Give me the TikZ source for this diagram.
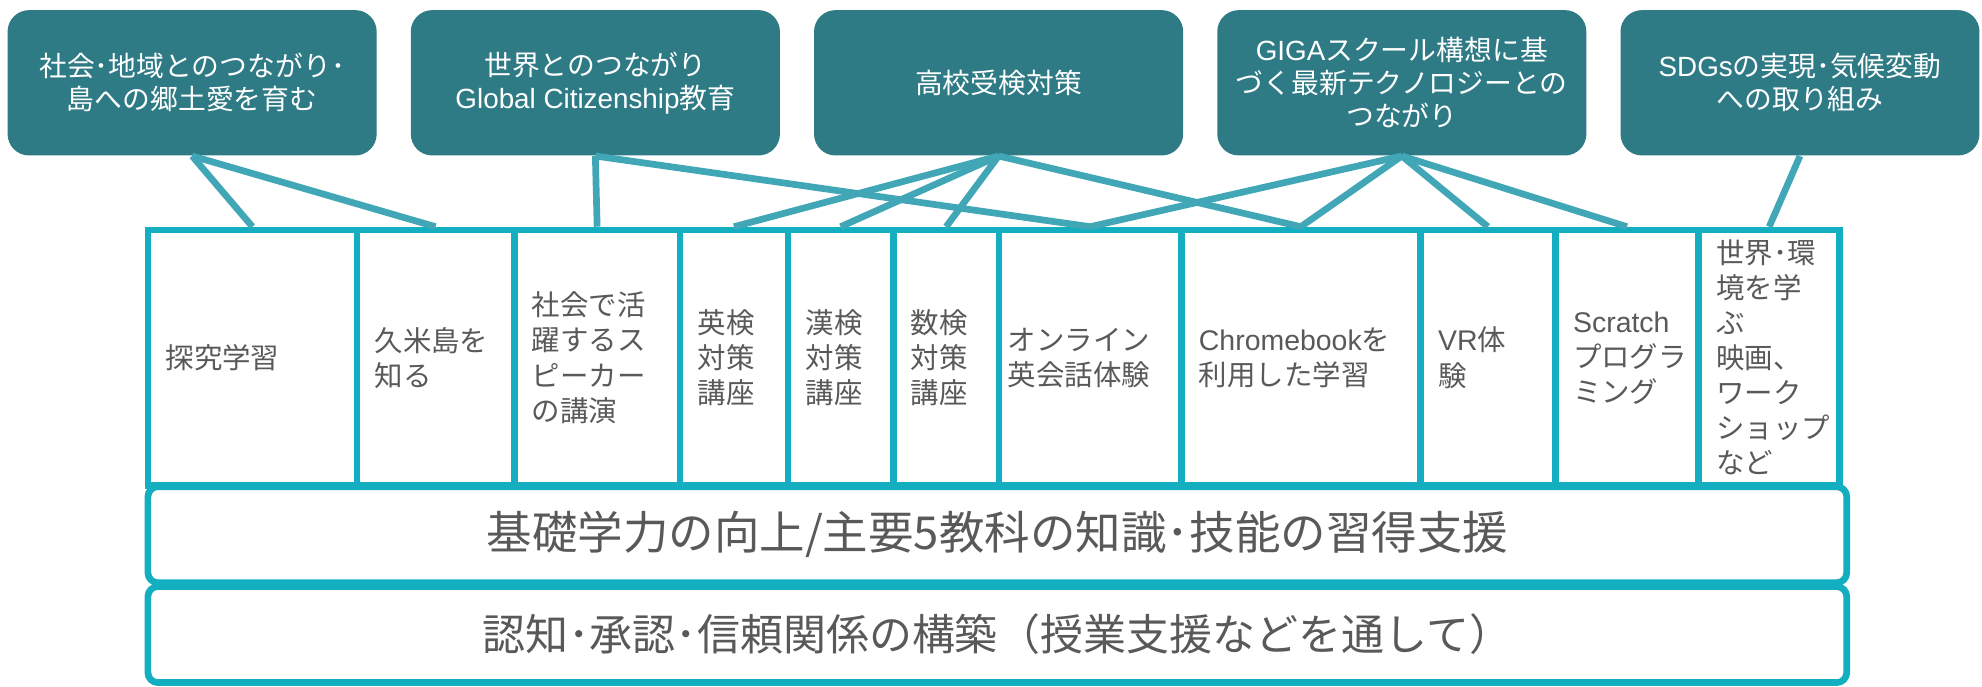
\documentclass[tikz,border=0pt]{standalone}
\usepackage{fontspec}
\setmainfont{Noto Sans CJK JP}
\newfontfamily\arialfont{Liberation Sans}
\definecolor{goalteal}{HTML}{2E7A85}
\definecolor{linkteal}{HTML}{41A7B7}
\definecolor{frameteal}{HTML}{13AFC1}
\definecolor{textgray}{HTML}{595959}
\tikzset{
  goal/.style={rectangle, rounded corners=8.5pt, fill=goalteal, text=white,
    align=center, minimum width=146pt, minimum height=57.5pt, inner sep=0pt,
    font=\fontsize{11}{13}\selectfont},
  cell/.style={rectangle, draw=frameteal, line width=2.65pt, minimum height=101pt,
    inner xsep=7pt, inner ysep=0pt, align=left, text=textgray,
    font=\fontsize{11.25}{13.85}\selectfont},
  base/.style={rectangle, rounded corners=4pt, draw=frameteal, line width=2.65pt,
    minimum width=672pt, minimum height=38pt, text=textgray}
}
\begin{document}
\begin{tikzpicture}[x=0.5pt, y=-0.5pt]
  \useasboundingbox (0,0) rectangle (1568,543);
  % goals
  \node[goal] (g1) at (152,65.5) {社会･地域とのつながり･\\島への郷土愛を育む};
  \node[goal] (g2) at (471,65.5) {世界とのつながり\\{\arialfont Global Citizenship}教育};
  \node[goal] (g3) at (790,65.5) {高校受検対策};
  \node[goal] (g4) at (1109,65.5) {{\arialfont GIGA}スクール構想に基\\づく最新テクノロジーとの\\つながり};
  \node[goal, minimum width=142pt] (g5) at (1424,65.5) {{\arialfont SDGs}の実現･気候変動\\への取り組み};
  % cells
  \node[cell, text width=68.7pt] (c1) at (199.7,283) {探究学習};
  \node[cell, text width=48.2pt] (c2) at (344.6,283) {久米島を\\知る};
  \node[cell, text width=51.6pt] (c3) at (472.4,283) {社会で活\\躍するス\\ピーカー\\の講演};
  \node[cell, text width=28.65pt] (c4) at (580.65,283) {英検\\対策\\講座};
  \node[cell, text width=27.7pt] (c5) at (665,283) {漢検\\対策\\講座};
  \node[cell, text width=27.8pt] (c6) at (748.5,283) {数検\\対策\\講座};
  \node[cell, text width=65.1pt, inner xsep=3.5pt] (c7) at (862.4,283) {オンライン\\英会話体験};
  \node[cell, text width=80.6pt] (c8) at (1029.1,283) {{\arialfont Chromebook}を\\利用した学習};
  \node[cell, text width=39.4pt] (c9) at (1177.1,283) {{\arialfont VR}体\\験};
  \node[cell, text width=42.65pt] (c10) at (1287.15,283) {{\arialfont Scratch}\\プログラ\\ミング};
  \node[cell, text width=41.85pt] (c11) at (1399.65,283) {世界･環\\境を学\\ぶ\\映画、\\ワーク\\ショップ\\など};
  % links
  \begin{scope}[draw=linkteal, line width=2.65pt]
    \draw (g1.south) to (c1.north);
    \draw (g1.south) to (c2.north);
    \draw (g2.south) to (c3.north);
    \draw (g2.south) to (c7.north);
    \draw (g3.south) to (c4.north);
    \draw (g3.south) to (c5.north);
    \draw (g3.south) to (c6.north);
    \draw (g3.south) to (c8.north);
    \draw (g4.south) to (c7.north);
    \draw (g4.south) to (c8.north);
    \draw (g4.south) to (c9.north);
    \draw (g4.south) to (c10.north);
    \draw (g5.south) to (c11.north);
  \end{scope}
  % bases
  \node[base, font=\fontsize{18}{22}\selectfont] (b1) at (789,423) {基礎学力の向上/主要5教科の知識･技能の習得支援};
  \node[base, font=\fontsize{17}{20}\selectfont] (b2) at (789,502) {認知･承認･信頼関係の構築（授業支援などを通して）};
\end{tikzpicture}
\end{document}
